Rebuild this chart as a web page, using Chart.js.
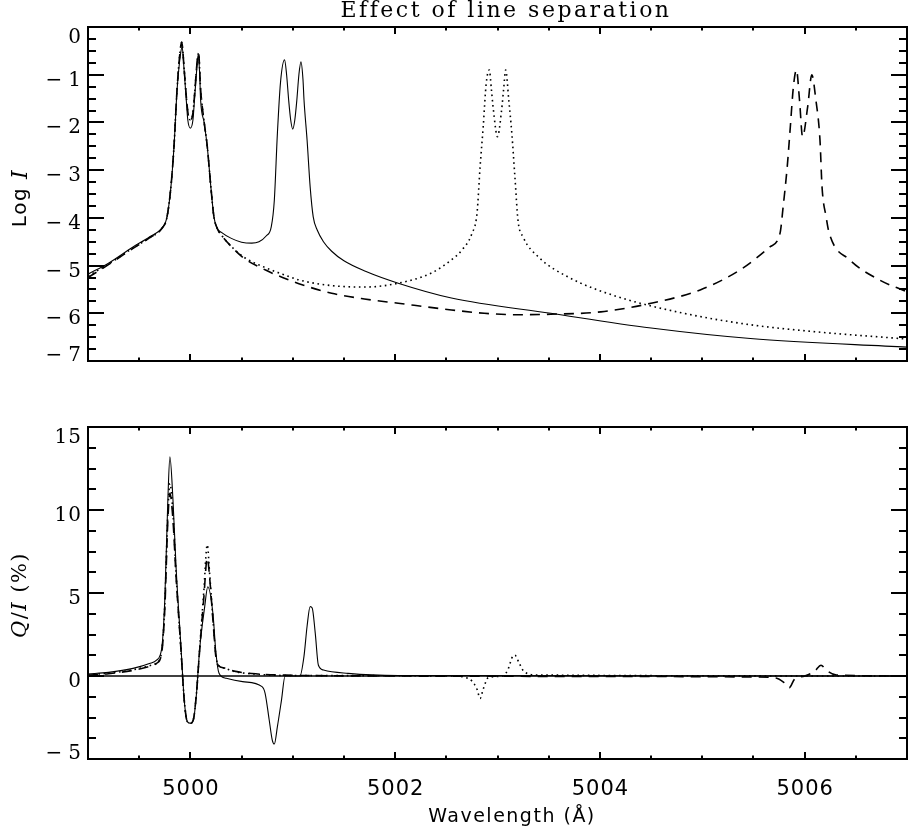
<!DOCTYPE html>
<html>
<head>
<meta charset="utf-8">
<script src="https://cdn.jsdelivr.net/npm/chart.js@4"></script>
<style>
  body { margin: 0; background: #fff; }
  #wrap { position: relative; width: 908px; height: 836px; }
  canvas { position: absolute; left: 0; }
</style>
</head>
<body>
<div id="wrap">
  <canvas id="logI" width="908" height="400" style="top:0"></canvas>
  <canvas id="qi" width="908" height="436" style="top:400px"></canvas>
</div>
<script>
// wavelength axis
const wavelengthTicks = [5000, 5002, 5004, 5006];
const logITicks = [0, -1, -2, -3, -4, -5, -6, -7];
const qiTicks = [15, 10, 5, 0, -5];

// top panel: Log I, separation 1 A (solid)
const topSolidX = [4999.00, 4999.20, 4999.44, 4999.60, 4999.73, 4999.77, 4999.81, 4999.84, 4999.87, 4999.905,
  4999.92, 4999.94, 4999.96, 4999.975, 5000.00, 5000.025, 5000.04, 5000.06, 5000.075, 5000.09,
  5000.10, 5000.135, 5000.165, 5000.20, 5000.23, 5000.26, 5000.30, 5000.40, 5000.50, 5000.60,
  5000.67, 5000.74, 5000.79, 5000.82, 5000.85, 5000.88, 5000.92, 5000.94, 5000.96, 5000.98,
  5001.00, 5001.02, 5001.04, 5001.06, 5001.08, 5001.10, 5001.11, 5001.14, 5001.17, 5001.20,
  5001.24, 5001.30, 5001.38, 5001.50, 5001.71, 5002.03, 5002.55, 5003.52, 5004.50, 5005.47, 5007.00];
const topSolidY = [-5.18, -4.95, -4.61, -4.40, -4.19, -4.00, -3.35, -2.51, -1.32, -0.55,
  -0.42, -0.95, -1.53, -1.95, -2.12, -1.95, -1.53, -0.95, -0.59, -0.95,
  -1.53, -2.01, -2.51, -3.35, -3.98, -4.21, -4.30, -4.43, -4.51, -4.53,
  -4.50, -4.38, -4.19, -3.63, -2.23, -1.17, -0.69, -1.00, -1.53, -1.95,
  -2.14, -1.95, -1.53, -1.00, -0.73, -1.10, -1.53, -2.37, -3.35, -3.98,
  -4.26, -4.50, -4.70, -4.90, -5.12, -5.37, -5.68, -6.00, -6.31, -6.53, -6.71];

// top panel: separation 3 A (dotted)
const topDotX = [4999.00, 4999.20, 4999.44, 4999.60, 4999.73, 4999.77, 4999.81, 4999.84, 4999.87, 4999.90,
  4999.915, 4999.94, 4999.96, 4999.98, 5000.00, 5000.025, 5000.045, 5000.065, 5000.08, 5000.10,
  5000.135, 5000.165, 5000.20, 5000.23, 5000.26, 5000.31, 5000.40, 5000.52, 5000.74, 5000.90,
  5001.06, 5001.38, 5001.71, 5002.03, 5002.35, 5002.55, 5002.65, 5002.75, 5002.80, 5002.83,
  5002.86, 5002.89, 5002.92, 5002.94, 5002.96, 5003.00, 5003.04, 5003.06, 5003.08, 5003.11,
  5003.14, 5003.17, 5003.20, 5003.25, 5003.40, 5003.69, 5004.17, 5004.82, 5005.47, 5006.12, 5007.00];
const topDotY = [-5.22, -4.97, -4.63, -4.42, -4.20, -4.00, -3.35, -2.50, -1.30, -0.50,
  -0.32, -0.90, -1.45, -1.85, -1.95, -1.80, -1.30, -0.75, -0.55, -1.30,
  -2.00, -2.50, -3.35, -3.98, -4.21, -4.38, -4.60, -4.82, -5.05, -5.18,
  -5.30, -5.42, -5.45, -5.37, -5.16, -4.88, -4.68, -4.33, -3.90, -2.93,
  -2.10, -1.18, -0.90, -1.30, -1.74, -2.30, -1.74, -1.30, -0.90, -1.53,
  -2.23, -3.14, -4.05, -4.40, -4.82, -5.24, -5.65, -6.00, -6.24, -6.39, -6.54];

// top panel: separation 6 A (dashed)
const topDashX = [4999.00, 4999.20, 4999.44, 4999.60, 4999.73, 4999.77, 4999.81, 4999.84, 4999.87, 4999.90,
  4999.915, 4999.94, 4999.96, 4999.98, 5000.00, 5000.025, 5000.045, 5000.065, 5000.08, 5000.10,
  5000.135, 5000.165, 5000.20, 5000.23, 5000.26, 5000.31, 5000.40, 5000.52, 5000.74, 5000.90,
  5001.06, 5001.38, 5001.70, 5002.03, 5002.55, 5002.87, 5003.20, 5003.52, 5004.01, 5004.50,
  5004.98, 5005.37, 5005.66, 5005.76, 5005.79, 5005.83, 5005.86, 5005.89, 5005.92, 5005.95,
  5005.98, 5006.03, 5006.07, 5006.11, 5006.15, 5006.17, 5006.21, 5006.24, 5006.44, 5006.73, 5007.00];
const topDashY = [-5.25, -4.98, -4.64, -4.42, -4.20, -4.00, -3.35, -2.50, -1.30, -0.50,
  -0.32, -0.90, -1.45, -1.85, -1.95, -1.80, -1.30, -0.75, -0.55, -1.30,
  -2.00, -2.50, -3.35, -3.98, -4.21, -4.38, -4.60, -4.84, -5.10, -5.25,
  -5.38, -5.58, -5.70, -5.79, -5.93, -6.00, -6.03, -6.02, -5.97, -5.79,
  -5.51, -5.09, -4.61, -4.32, -3.77, -2.93, -2.10, -1.26, -0.90, -1.53,
  -2.30, -1.67, -1.00, -1.53, -2.37, -3.35, -3.98, -4.32, -4.88, -5.30, -5.55];

// bottom panel: Q/I (%)
const botSolidX = [4999.00, 4999.20, 4999.44, 4999.60, 4999.67, 4999.72, 4999.75, 4999.78, 4999.80, 4999.83,
  4999.86, 4999.91, 4999.94, 4999.97, 5000.00, 5000.03, 5000.06, 5000.09, 5000.14, 5000.17,
  5000.22, 5000.25, 5000.28, 5000.35, 5000.51, 5000.70, 5000.73, 5000.77, 5000.80, 5000.82,
  5000.85, 5000.89, 5000.925, 5001.07, 5001.11, 5001.14, 5001.17, 5001.19, 5001.22, 5001.25,
  5001.30, 5001.54, 5002.03, 5007.00];
const botSolidY = [0.12, 0.22, 0.46, 0.75, 0.96, 1.67, 4.58, 10.6, 13.2, 10.6,
  6.58, 1.57, -1.45, -2.75, -2.85, -2.65, -1.04, 1.57, 4.18, 5.38,
  3.78, 1.37, 0.16, -0.14, -0.34, -0.64, -1.04, -2.65, -3.86, -4.10,
  -3.05, -1.45, 0.0, 0.0, 1.2, 3.0, 4.18, 4.1, 2.57, 0.66,
  0.36, 0.16, 0.03, 0.0];

const botDotX = [4999.00, 4999.20, 4999.44, 4999.60, 4999.67, 4999.72, 4999.75, 4999.78, 4999.80, 4999.83,
  4999.86, 4999.91, 4999.94, 4999.97, 5000.00, 5000.03, 5000.06, 5000.09, 5000.13, 5000.165,
  5000.19, 5000.22, 5000.25, 5000.28, 5000.32, 5000.44, 5000.67, 5000.93, 5002.55, 5002.68,
  5002.75, 5002.80, 5002.83, 5002.86, 5002.91, 5003.05, 5003.10, 5003.15, 5003.17, 5003.21,
  5003.26, 5003.39, 5007.00];
const botDotY = [0.08, 0.17, 0.38, 0.62, 0.80, 1.5, 4.3, 9.8, 11.6, 9.8,
  6.2, 1.4, -1.45, -2.75, -2.85, -2.6, -1.0, 1.6, 5.0, 7.9,
  6.0, 3.5, 1.2, 0.6, 0.5, 0.26, 0.10, 0.03, 0.0, -0.08,
  -0.30, -0.80, -1.35, -0.80, -0.10, 0.0, 0.36, 1.2, 1.25, 0.8,
  0.26, 0.06, 0.0];

const botDashX = [4999.00, 4999.20, 4999.44, 4999.60, 4999.67, 4999.72, 4999.75, 4999.78, 4999.80, 4999.83,
  4999.86, 4999.91, 4999.94, 4999.97, 5000.00, 5000.03, 5000.06, 5000.09, 5000.13, 5000.165,
  5000.19, 5000.22, 5000.25, 5000.28, 5000.32, 5000.44, 5000.67, 5000.93, 5002.00, 5004.50,
  5005.50, 5005.72, 5005.80, 5005.85, 5005.90, 5006.00, 5006.10, 5006.16, 5006.21, 5006.31, 5007.00];
const botDashY = [0.05, 0.14, 0.34, 0.58, 0.76, 1.4, 4.0, 9.4, 11.0, 9.4,
  6.0, 1.4, -1.45, -2.75, -2.85, -2.6, -1.0, 1.5, 4.6, 7.1,
  5.8, 3.4, 1.1, 0.6, 0.5, 0.28, 0.12, 0.05, 0.0, -0.03,
  -0.06, -0.12, -0.40, -0.70, -0.20, 0.0, 0.30, 0.65, 0.36, 0.06, 0.0];

const zeroX = [4999, 5007];
const zeroY = [0, 0];

function pts(xs, ys) {
  return xs.map((x, i) => ({ x: x, y: ys[i] }));
}

function fmt(v) {
  return v < 0 ? "\u2212\u2009" + Math.abs(v) : String(v);
}

function setSpacing(ctx, s) {
  if ("letterSpacing" in ctx) ctx.letterSpacing = s + "px";
}

// rotated y title built from runs of text in different fonts
function drawRuns(ctx, runs, cx, cy, spacing) {
  ctx.save();
  ctx.translate(cx, cy);
  ctx.rotate(-Math.PI / 2);
  setSpacing(ctx, spacing);
  let total = 0;
  runs.forEach(r => { ctx.font = r.font; total += ctx.measureText(r.text).width; });
  let x = -total / 2;
  ctx.textBaseline = "middle";
  ctx.textAlign = "left";
  runs.forEach(r => {
    ctx.font = r.font;
    ctx.fillText(r.text, x, 0);
    x += ctx.measureText(r.text).width;
  });
  ctx.restore();
}

const idlAxes = {
  id: "idlAxes",
  afterDraw(chart, args, o) {
    const { ctx, chartArea: a } = chart;
    const xs = chart.scales.x, ys = chart.scales.y;
    ctx.save();
    ctx.strokeStyle = "#000";
    ctx.fillStyle = "#000";
    ctx.lineWidth = 2;
    ctx.beginPath();
    for (let v = xs.min; v <= xs.max + 1e-9; v += o.xMinor) {
      const px = Math.round(xs.getPixelForValue(v));
      const len = o.xMajor.some(m => Math.abs(m - v) < 1e-6) ? 7 : 3.5;
      ctx.moveTo(px, a.bottom); ctx.lineTo(px, a.bottom - len);
      ctx.moveTo(px, a.top); ctx.lineTo(px, a.top + len);
    }
    for (let v = ys.min; v <= ys.max + 1e-9; v += o.yMinor) {
      const py = Math.round(ys.getPixelForValue(v));
      const len = o.yMajor.some(m => Math.abs(m - v) < 1e-6) ? 16 : 8;
      ctx.moveTo(a.left, py); ctx.lineTo(a.left + len, py);
      ctx.moveTo(a.right, py); ctx.lineTo(a.right - len, py);
    }
    ctx.stroke();
    ctx.strokeRect(a.left, a.top, a.right - a.left, a.bottom - a.top);

    // y tick labels
    ctx.font = "20px 'DejaVu Serif'";
    setSpacing(ctx, 1);
    ctx.textAlign = "right";
    ctx.textBaseline = "alphabetic";
    o.yMajor.forEach(v => {
      let cy = ys.getPixelForValue(v) + 4;
      cy = Math.min(Math.max(cy, a.top + 9), a.bottom - 7);
      ctx.fillText(fmt(v), a.left - 6, cy + 7);
    });

    // x tick labels
    if (o.xLabels) {
      ctx.font = "21px 'DejaVu Sans'";
      ctx.textAlign = "center";
      o.xMajor.forEach(v => {
        ctx.fillText(fmt(v), xs.getPixelForValue(v) + 0.5, a.bottom + 36);
      });
    }

    if (o.xTitle) {
      ctx.font = "19px 'DejaVu Sans'";
      setSpacing(ctx, 1.5);
      ctx.textAlign = "center";
      ctx.fillText(o.xTitle, 512, a.bottom + 63);
    }

    if (o.title) {
      ctx.font = "22px 'DejaVu Serif'";
      setSpacing(ctx, 2.5);
      ctx.textAlign = "center";
      ctx.fillText(o.title, 506, 17);
    }

    drawRuns(ctx, o.yTitle, 21, (a.top + a.bottom) / 2 + o.yTitleShift, o.yTitleSpacing);
    ctx.restore();
  }
};

function lineSet(data, style) {
  const base = {
    data: data,
    borderColor: "#000",
    borderWidth: 1.1,
    pointRadius: 0,
    fill: false,
    cubicInterpolationMode: "monotone"
  };
  if (style === "dot") { base.borderWidth = 1.6; base.borderDash = [1.6, 3.6]; }
  if (style === "dash") { base.borderWidth = 1.6; base.borderDash = [10, 7]; }
  if (style === "zero") { base.borderWidth = 1.6; }
  return base;
}

function panel(id, datasets, yMin, yMax, padBottom, axes) {
  new Chart(document.getElementById(id), {
    type: "line",
    data: { datasets: datasets },
    options: {
      responsive: false,
      animation: false,
      devicePixelRatio: 1,
      layout: { padding: { left: 88, right: 1, top: 27, bottom: padBottom } },
      plugins: { legend: { display: false }, tooltip: { enabled: false }, idlAxes: axes },
      scales: {
        x: { type: "linear", min: 4999, max: 5007, display: false },
        y: { type: "linear", min: yMin, max: yMax, display: false }
      }
    },
    plugins: [idlAxes]
  });
}

panel("logI", [
  lineSet(pts(topSolidX, topSolidY), "solid"),
  lineSet(pts(topDotX, topDotY), "dot"),
  lineSet(pts(topDashX, topDashY), "dash")
], -7, 0, 39, {
  xMajor: wavelengthTicks, xMinor: 0.5,
  yMajor: logITicks, yMinor: 0.25,
  xLabels: false,
  title: "Effect of line separation",
  yTitle: [
    { text: "Log ", font: "20px 'DejaVu Sans'" },
    { text: "I", font: "italic 22px 'DejaVu Serif'" }
  ],
  yTitleShift: 4, yTitleSpacing: 1.5
});

panel("qi", [
  lineSet(pts(botSolidX, botSolidY), "solid"),
  lineSet(pts(botDotX, botDotY), "dot"),
  lineSet(pts(botDashX, botDashY), "dash"),
  lineSet(pts(zeroX, zeroY), "zero")
], -5, 15, 77, {
  xMajor: wavelengthTicks, xMinor: 0.5,
  yMajor: qiTicks, yMinor: 1.25,
  xLabels: true,
  xTitle: "Wavelength (\u00c5)",
  yTitle: [
    { text: "Q", font: "italic 21px 'DejaVu Serif'" },
    { text: "/", font: "21px 'DejaVu Serif'" },
    { text: "I", font: "italic 21px 'DejaVu Serif'" },
    { text: " (%)", font: "21px 'DejaVu Serif'" }
  ],
  yTitleShift: 2, yTitleSpacing: 1.5
});
</script>
</body>
</html>
